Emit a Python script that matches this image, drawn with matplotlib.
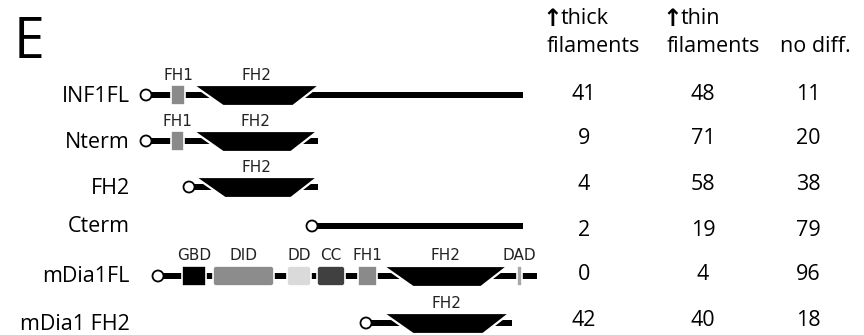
import matplotlib
matplotlib.use("Agg")
import matplotlib.pyplot as plt
from matplotlib.patches import Circle, Rectangle, Polygon, FancyBboxPatch

plt.rcParams['font.family'] = ['Open Sans', 'DejaVu Sans']

# constructs, top to bottom
constructs = ["INF1FL", "Nterm", "FH2", "Cterm", "mDia1FL", "mDia1 FH2"]

# percent of cells per phenotype
thick_pct = [41, 9, 4, 2, 0, 42]
thin_pct = [48, 71, 58, 19, 4, 40]
nodiff_pct = [11, 20, 38, 79, 96, 18]

# column headers: (arrow?, first line, second line)
col_headers = [(True, "thick", "filaments"), (True, "thin", "filaments"), (False, "", "no diff.")]

# backbone extent of each construct along the drawing (start, end)
backbone = [(146, 523), (146, 318), (189, 318), (312, 523), (158, 537), (366, 512)]

# FH2 domain (top-left, top-right) per construct, None if absent
fh2_span = [(193, 320), (193, 318), (195, 318), None, (383, 508), (383, 510)]

# other domains: (construct index, name, start, end, color, rounded)
domains = [
    (0, "FH1", 171, 185, "#8a8a8a", False),
    (1, "FH1", 171, 184, "#8a8a8a", False),
    (4, "GBD", 182, 206, "#000000", False),
    (4, "DID", 213, 274, "#8c8c8c", True),
    (4, "DD", 287, 311, "#dadada", True),
    (4, "CC", 317, 345, "#404040", True),
    (4, "FH1", 358, 377, "#8a8a8a", False),
    (4, "DAD", 517, 522, "#a8a8a8", False),
]

row_y = [95, 141, 187, 226, 276, 323]
num_y = [93, 137, 184, 229, 274, 320]
col_x = [584, 703, 808]

fig = plt.figure(figsize=(8.64, 3.35), dpi=100)
ax = fig.add_axes([0, 0, 1, 1])
ax.set_xlim(0, 864)
ax.set_ylim(335, 0)
ax.axis('off')

narrow = ['DejaVu Sans Condensed', 'Liberation Sans Narrow', 'DejaVu Sans']
bb_h = 6
box_h = 20

ax.text(14, 44, "E", fontsize=40, va='center', ha='left')

for i, name in enumerate(constructs):
    y = row_y[i]
    ax.text(130, y + 1, name, fontsize=15.5, ha='right', va='center')

    x0, x1 = backbone[i]
    ax.add_patch(Rectangle((x0, y - bb_h / 2), x1 - x0, bb_h, color='black', lw=0, zorder=2))

    if fh2_span[i] is not None:
        a, b = fh2_span[i]
        trap = Polygon([(a, y - 10), (b, y - 10), (b - 27, y + 11), (a + 30, y + 11)],
                       closed=True, facecolor='black', edgecolor='white', lw=1.6, zorder=3)
        ax.add_patch(trap)
        ax.text((a + b) / 2, y - 20, "FH2", fontsize=11, family=narrow,
                ha='center', va='center', color='#222222')

    ax.add_patch(Circle((x0, y), 5.5, facecolor='white', edgecolor='black', lw=1.3, zorder=5))

for idx, name, a, b, color, rounded in domains:
    y = row_y[idx]
    if rounded:
        box = FancyBboxPatch((a, y - box_h / 2), b - a, box_h,
                             boxstyle="round,pad=0,rounding_size=3",
                             facecolor=color, edgecolor='white', lw=1.2, zorder=4)
    else:
        box = Rectangle((a, y - box_h / 2), b - a, box_h,
                        facecolor=color, edgecolor='white', lw=1.2, zorder=4)
    ax.add_patch(box)
    ax.text((a + b) / 2, y - 20, name, fontsize=11, family=narrow,
            ha='center', va='center', color='#222222')

# column headers
header_x = [547, 667, 780]
for hx, (arrow, line1, line2) in zip(header_x, col_headers):
    if arrow:
        ax.text(hx + 5, 19, "\u2191", fontsize=17, fontweight='bold', family='DejaVu Sans',
                ha='center', va='center')
        ax.text(hx + 14, 19, line1, fontsize=15.5, ha='left', va='center')
    ax.text(hx, 46, line2, fontsize=15.5, ha='left', va='center')

for i in range(len(constructs)):
    for x, vals in zip(col_x, [thick_pct, thin_pct, nodiff_pct]):
        ax.text(x, num_y[i] + 1, str(vals[i]), fontsize=15.5, ha='center', va='center')

fig.savefig("out.png", dpi=100)
